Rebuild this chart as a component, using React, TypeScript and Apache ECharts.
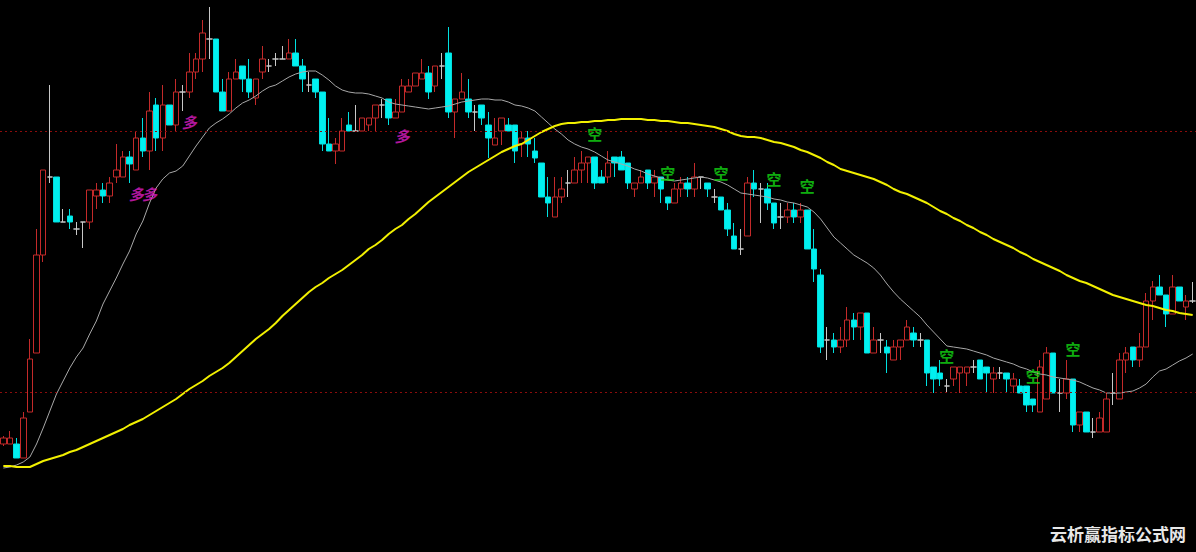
import React, { useEffect, useRef } from "react";
import * as echarts from "echarts";

// candle index labels
const categories: string[] = Array.from({ length: 180 }, (_, i) => String(i + 1));

// [open, close, low, high]
const candles: number[][] = [
  [5.56, 5.62, 5.54, 5.64], [5.56, 5.62, 5.56, 5.69], [5.56, 5.42, 5.42, 5.62], [5.42, 5.82, 5.42, 5.88], [5.88, 6.41, 5.88, 6.61],
  [6.47, 7.45, 6.47, 7.71], [7.45, 8.30, 7.38, 8.30], [8.23, 8.23, 8.17, 9.15], [8.23, 7.78, 7.78, 8.23], [7.78, 7.78, 7.78, 7.91],
  [7.84, 7.78, 7.71, 7.91], [7.71, 7.71, 7.65, 7.78], [7.78, 7.78, 7.52, 7.78], [7.78, 8.10, 7.71, 8.10], [8.04, 8.10, 7.91, 8.17],
  [8.10, 8.04, 7.97, 8.17], [8.04, 8.17, 7.97, 8.23], [8.23, 8.30, 8.17, 8.56], [8.23, 8.43, 8.23, 8.49], [8.43, 8.36, 8.17, 8.49],
  [8.30, 8.62, 8.30, 8.69], [8.62, 8.49, 8.43, 8.82], [8.49, 8.89, 8.30, 9.08], [8.95, 8.62, 8.49, 9.02], [8.62, 8.95, 8.49, 9.15],
  [8.95, 8.75, 8.75, 8.95], [8.75, 9.08, 8.69, 9.21], [9.08, 9.08, 8.89, 9.15], [9.08, 9.28, 9.02, 9.47], [9.28, 9.41, 9.21, 9.47],
  [9.41, 9.67, 9.28, 9.80], [9.61, 9.61, 9.41, 9.93], [9.61, 9.08, 9.08, 9.61], [9.08, 8.89, 8.89, 9.21], [8.89, 9.21, 8.89, 9.28],
  [9.21, 9.28, 9.21, 9.41], [9.34, 9.21, 9.08, 9.34], [9.21, 9.08, 9.02, 9.41], [9.02, 9.21, 8.95, 9.21], [9.28, 9.41, 9.21, 9.54],
  [9.34, 9.34, 9.28, 9.41], [9.41, 9.41, 9.34, 9.47], [9.41, 9.41, 9.41, 9.54], [9.41, 9.47, 9.41, 9.61], [9.47, 9.34, 9.34, 9.61],
  [9.34, 9.21, 9.08, 9.41], [9.15, 9.15, 9.08, 9.28], [9.21, 9.08, 9.02, 9.21], [9.08, 8.56, 8.49, 9.08], [8.56, 8.49, 8.49, 8.82],
  [8.49, 8.56, 8.36, 8.62], [8.49, 8.69, 8.49, 8.82], [8.75, 8.69, 8.69, 8.88], [8.69, 8.69, 8.69, 8.95], [8.69, 8.82, 8.69, 8.82],
  [8.75, 8.82, 8.69, 8.82], [8.82, 8.95, 8.69, 8.95], [8.95, 8.95, 8.82, 9.01], [9.01, 8.82, 8.75, 9.01], [8.82, 8.88, 8.82, 9.01],
  [8.88, 9.14, 8.88, 9.21], [9.08, 9.14, 9.08, 9.21], [9.14, 9.27, 9.14, 9.27], [9.21, 9.27, 9.21, 9.41], [9.27, 9.08, 9.01, 9.34],
  [9.14, 9.34, 9.08, 9.34], [9.34, 9.34, 9.21, 9.47], [9.47, 8.88, 8.82, 9.73], [8.88, 9.01, 8.62, 9.01], [9.01, 9.08, 9.01, 9.27],
  [9.01, 8.88, 8.82, 9.21], [8.88, 8.88, 8.69, 8.95], [8.95, 8.82, 8.75, 8.95], [8.75, 8.62, 8.42, 8.88], [8.55, 8.62, 8.55, 8.82],
  [8.69, 8.82, 8.55, 8.82], [8.75, 8.69, 8.69, 8.82], [8.75, 8.49, 8.37, 8.75], [8.56, 8.62, 8.43, 8.69], [8.62, 8.56, 8.43, 8.69],
  [8.49, 8.42, 8.37, 8.62], [8.37, 8.03, 8.03, 8.37], [8.03, 7.97, 7.83, 8.23], [7.83, 8.03, 7.83, 8.23], [8.03, 8.11, 7.97, 8.23],
  [8.17, 8.17, 8.03, 8.30], [8.17, 8.30, 8.17, 8.43], [8.30, 8.37, 8.17, 8.49], [8.37, 8.43, 8.17, 8.43], [8.43, 8.17, 8.11, 8.43],
  [8.23, 8.17, 8.17, 8.30], [8.23, 8.37, 8.17, 8.49], [8.43, 8.37, 8.23, 8.43], [8.43, 8.30, 8.30, 8.49], [8.37, 8.17, 8.11, 8.37],
  [8.11, 8.17, 8.03, 8.17], [8.17, 8.23, 8.17, 8.30], [8.30, 8.17, 8.11, 8.30], [8.17, 8.23, 8.03, 8.30], [8.23, 8.11, 7.97, 8.23],
  [8.03, 7.97, 7.90, 8.03], [7.97, 8.11, 7.97, 8.17], [8.11, 8.17, 8.03, 8.23], [8.17, 8.11, 8.03, 8.23], [8.11, 8.23, 8.03, 8.37],
  [8.23, 8.23, 8.11, 8.23], [8.17, 8.11, 8.03, 8.17], [8.03, 8.03, 7.97, 8.11], [8.03, 7.90, 7.90, 8.03], [7.90, 7.71, 7.64, 7.97],
  [7.64, 7.51, 7.51, 7.77], [7.51, 7.51, 7.45, 7.71], [7.64, 8.17, 7.64, 8.23], [8.17, 8.11, 8.03, 8.30], [8.11, 8.11, 7.77, 8.17],
  [8.11, 7.97, 7.90, 8.17], [7.97, 7.77, 7.71, 7.97], [7.83, 7.83, 7.71, 7.97], [7.83, 7.90, 7.77, 7.97], [7.90, 7.83, 7.77, 7.97],
  [7.83, 7.90, 7.77, 7.97], [7.90, 7.51, 7.51, 7.90], [7.51, 7.31, 7.18, 7.71], [7.25, 6.53, 6.47, 7.31], [6.60, 6.60, 6.40, 6.73],
  [6.60, 6.53, 6.47, 6.67], [6.53, 6.60, 6.47, 6.73], [6.60, 6.80, 6.53, 6.93], [6.80, 6.73, 6.60, 6.87], [6.73, 6.87, 6.60, 6.87],
  [6.87, 6.47, 6.47, 6.87], [6.47, 6.60, 6.47, 6.73], [6.60, 6.60, 6.47, 6.67], [6.53, 6.47, 6.27, 6.60], [6.40, 6.53, 6.40, 6.60],
  [6.53, 6.60, 6.40, 6.60], [6.60, 6.73, 6.60, 6.80], [6.67, 6.60, 6.53, 6.73], [6.60, 6.60, 6.53, 6.67], [6.60, 6.27, 6.14, 6.60],
  [6.33, 6.21, 6.07, 6.33], [6.27, 6.21, 6.14, 6.40], [6.14, 6.14, 6.07, 6.21], [6.21, 6.33, 6.14, 6.33], [6.27, 6.33, 6.07, 6.33],
  [6.27, 6.33, 6.14, 6.33], [6.33, 6.33, 6.27, 6.40], [6.40, 6.21, 6.21, 6.40], [6.33, 6.27, 6.07, 6.33], [6.21, 6.27, 6.07, 6.33],
  [6.27, 6.27, 6.21, 6.33], [6.27, 6.21, 6.07, 6.27], [6.14, 6.21, 6.07, 6.27], [6.14, 6.07, 6.07, 6.21], [6.14, 5.95, 5.88, 6.14],
  [6.01, 5.95, 5.88, 6.01], [5.88, 6.33, 5.88, 6.40], [6.01, 6.47, 6.01, 6.53], [6.47, 6.07, 6.07, 6.47], [6.07, 6.07, 5.88, 6.21],
  [6.07, 6.21, 6.01, 6.40], [6.21, 5.75, 5.68, 6.21], [5.75, 5.88, 5.68, 5.88], [5.88, 5.68, 5.68, 5.88], [5.68, 5.68, 5.62, 5.82],
  [5.68, 5.82, 5.68, 5.88], [5.68, 6.01, 5.68, 6.07], [6.07, 6.07, 5.95, 6.27], [6.01, 6.40, 6.01, 6.47], [6.40, 6.47, 6.27, 6.53],
  [6.53, 6.40, 6.33, 6.53], [6.40, 6.53, 6.33, 6.67], [6.53, 6.99, 6.53, 7.07], [6.99, 7.13, 6.80, 7.19], [7.13, 7.05, 7.05, 7.25],
  [7.05, 6.86, 6.73, 7.05], [6.86, 7.13, 6.86, 7.25], [7.13, 6.99, 6.99, 7.13], [6.93, 6.99, 6.80, 7.05], [6.99, 6.99, 6.97, 7.18],
];

// short moving average (gray)
const maShort: number[] = [
  5.32, 5.33, 5.35, 5.38, 5.43, 5.56, 5.72, 5.89, 6.06, 6.19,
  6.32, 6.43, 6.52, 6.66, 6.79, 6.96, 7.09, 7.22, 7.36, 7.49,
  7.66, 7.79, 7.97, 8.12, 8.21, 8.27, 8.29, 8.34, 8.44, 8.54,
  8.63, 8.72, 8.77, 8.81, 8.86, 8.92, 8.97, 9.00, 9.04, 9.09,
  9.13, 9.15, 9.19, 9.23, 9.26, 9.28, 9.29, 9.29, 9.25, 9.20,
  9.14, 9.10, 9.08, 9.07, 9.07, 9.06, 9.04, 9.02, 8.98, 8.96,
  8.95, 8.94, 8.93, 8.92, 8.91, 8.92, 8.93, 8.94, 8.96, 8.98,
  8.99, 9.00, 9.01, 9.01, 9.00, 9.00, 8.98, 8.95, 8.94, 8.92,
  8.89, 8.83, 8.77, 8.71, 8.66, 8.60, 8.56, 8.53, 8.51, 8.48,
  8.44, 8.40, 8.38, 8.36, 8.34, 8.31, 8.29, 8.26, 8.24, 8.22,
  8.20, 8.19, 8.20, 8.21, 8.22, 8.23, 8.22, 8.20, 8.18, 8.15,
  8.11, 8.07, 8.06, 8.05, 8.04, 8.03, 8.01, 8.00, 7.98, 7.97,
  7.95, 7.93, 7.88, 7.81, 7.72, 7.63, 7.57, 7.51, 7.45, 7.41,
  7.37, 7.32, 7.25, 7.16, 7.08, 7.01, 6.95, 6.89, 6.83, 6.75,
  6.68, 6.61, 6.54, 6.53, 6.52, 6.51, 6.49, 6.47, 6.45, 6.42,
  6.40, 6.38, 6.36, 6.33, 6.31, 6.28, 6.26, 6.25, 6.23, 6.22,
  6.21, 6.20, 6.18, 6.15, 6.12, 6.10, 6.07, 6.07, 6.07, 6.08,
  6.09, 6.12, 6.16, 6.23, 6.29, 6.31, 6.35, 6.39, 6.42, 6.46,
];

// long moving average (yellow)
const maLong: number[] = [
  5.34, 5.34, 5.33, 5.33, 5.33, 5.36, 5.39, 5.41, 5.43, 5.45,
  5.48, 5.50, 5.53, 5.56, 5.59, 5.62, 5.65, 5.68, 5.71, 5.75,
  5.78, 5.81, 5.85, 5.89, 5.93, 5.97, 6.01, 6.06, 6.11, 6.15,
  6.19, 6.24, 6.28, 6.32, 6.37, 6.43, 6.49, 6.55, 6.61, 6.66,
  6.71, 6.77, 6.84, 6.90, 6.96, 7.02, 7.08, 7.13, 7.17, 7.22,
  7.26, 7.30, 7.35, 7.40, 7.45, 7.51, 7.55, 7.60, 7.66, 7.71,
  7.75, 7.81, 7.86, 7.92, 7.98, 8.03, 8.08, 8.13, 8.18, 8.23,
  8.28, 8.32, 8.36, 8.40, 8.44, 8.48, 8.51, 8.54, 8.56, 8.60,
  8.64, 8.68, 8.71, 8.74, 8.76, 8.77, 8.77, 8.78, 8.78, 8.79,
  8.79, 8.80, 8.80, 8.81, 8.81, 8.81, 8.81, 8.80, 8.80, 8.79,
  8.79, 8.78, 8.77, 8.77, 8.76, 8.75, 8.74, 8.73, 8.71, 8.69,
  8.66, 8.64, 8.63, 8.63, 8.62, 8.60, 8.58, 8.57, 8.55, 8.53,
  8.50, 8.48, 8.45, 8.42, 8.38, 8.35, 8.31, 8.29, 8.27, 8.25,
  8.23, 8.21, 8.18, 8.15, 8.11, 8.08, 8.06, 8.03, 8.00, 7.97,
  7.93, 7.89, 7.86, 7.82, 7.79, 7.75, 7.72, 7.68, 7.65, 7.61,
  7.58, 7.55, 7.52, 7.48, 7.45, 7.41, 7.38, 7.35, 7.32, 7.29,
  7.25, 7.22, 7.19, 7.17, 7.14, 7.11, 7.08, 7.05, 7.03, 7.01,
  6.99, 6.97, 6.95, 6.94, 6.92, 6.90, 6.89, 6.87, 6.86, 6.85,
];

// signal markers: [candle index, price]
const longSignals: number[][] = [[20, 8.07], [22, 8.07], [28, 8.79], [60, 8.65]];
const shortSignals: number[][] = [
  [89, 8.67], [100, 8.28], [108, 8.28], [116, 8.22], [121, 8.15], [142, 6.45], [155, 6.25], [161, 6.52],
];

// horizontal reference levels
const levels: number[] = [8.69, 6.08];

const PRICE_MIN = 4.48;
const PRICE_MAX = 10.0;

export default function App() {
  const ref = useRef<HTMLDivElement>(null);

  useEffect(() => {
    document.body.style.margin = "0";
    document.body.style.background = "#000";
    if (!ref.current) return;
    const chart = echarts.init(ref.current, undefined, { renderer: "svg" });
    chart.setOption({
      animation: false,
      backgroundColor: "#000000",
      grid: { left: -4, right: 0, top: 0, bottom: 0, containLabel: false },
      xAxis: {
        type: "category",
        data: categories,
        boundaryGap: true,
        show: false,
      },
      yAxis: {
        type: "value",
        min: PRICE_MIN,
        max: PRICE_MAX,
        show: false,
        splitLine: { show: false },
      },
      series: [
        {
          type: "candlestick",
          data: candles,
          barWidth: 6,
          itemStyle: {
            color: "#000000",
            borderColor: "#c42a2a",
            color0: "#00f0f0",
            borderColor0: "#00e0e0",
            borderColorDoji: "#c8c8c8",
            borderWidth: 1,
          },
          markLine: {
            silent: true,
            symbol: ["none", "none"],
            label: { show: false },
            lineStyle: { color: "#8a0c0c", type: [2, 3], width: 1 },
            data: levels.map((v) => ({ yAxis: v })),
          },
          z: 2,
        },
        {
          type: "line",
          data: maShort,
          showSymbol: false,
          symbol: "none",
          lineStyle: { color: "#a8a8a8", width: 1 },
          z: 3,
        },
        {
          type: "line",
          data: maLong,
          showSymbol: false,
          symbol: "none",
          lineStyle: { color: "#f2f000", width: 2 },
          z: 4,
        },
        {
          type: "scatter",
          data: longSignals,
          symbolSize: 1,
          itemStyle: { color: "rgba(0,0,0,0)" },
          label: {
            show: true,
            position: "inside",
            formatter: "多",
            color: "#e01ec8",
            fontSize: 15,
            fontWeight: "bold",
            fontStyle: "italic",
            fontFamily: '"Noto Sans CJK SC"',
          },
          z: 5,
        },
        {
          type: "scatter",
          data: shortSignals,
          symbolSize: 1,
          itemStyle: { color: "rgba(0,0,0,0)" },
          label: {
            show: true,
            position: "inside",
            formatter: "空",
            color: "#14dc14",
            fontSize: 15,
            fontWeight: "bold",
            fontFamily: '"Noto Sans CJK SC"',
          },
          z: 5,
        },
      ],
      graphic: [
        {
          type: "text",
          right: 10,
          top: 525,
          style: {
            text: "云析赢指标公式网",
            fill: "#e8e8e8",
            font: 'bold 17px "Noto Sans CJK SC"',
          },
        },
      ],
    });
    return () => chart.dispose();
  }, []);

  return <div ref={ref} style={{ width: 1196, height: 552, background: "#000" }} />;
}
